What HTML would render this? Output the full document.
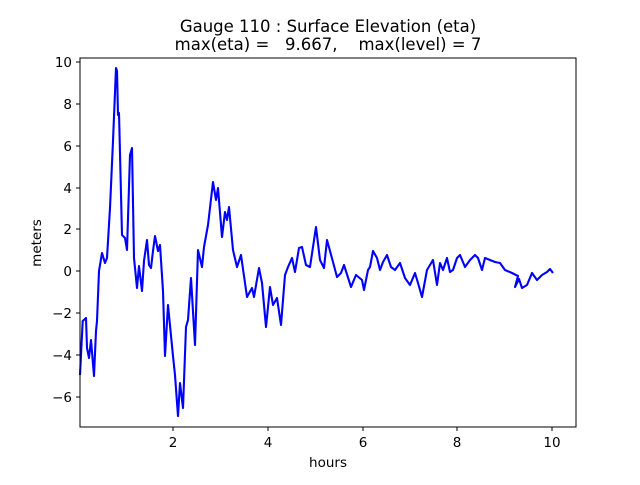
<!DOCTYPE html>
<html><head><style>body{margin:0;background:#fff}svg text{font-family:"DejaVu Sans","Liberation Sans",sans-serif;fill:#000}</style></head>
<body><svg width="640" height="480" xmlns="http://www.w3.org/2000/svg">
<rect width="640" height="480" fill="#fff"/>
<text x="328" y="32" font-size="16.5" text-anchor="middle">Gauge 110 : Surface Elevation (eta)</text>
<text x="328" y="50" font-size="16.5" text-anchor="middle" xml:space="preserve">max(eta) =   9.667,    max(level) = 7</text>
<polyline fill="none" stroke="#0000ff" stroke-width="2.1" stroke-linejoin="round" points="80,375 82.7,321 86,318 87,348 89,358 91,340 94,376 96,331 97,321 99,271 102,253 105,263 107,258 110,208 113,141 116,68 117,71 118,115 119,113 122,235 125,238 127,250 130,155 132,148 134,258 137,288 139,266 142,291 144,261 147,240 149,265 151,268 153,251 155,236 158,251 160,245 163,291 165,356 168,305 173,356 175,375 178,416 180,383 183,408 186,327 188,320 191,278 195,345 198,250 202,267 204,247 208,225 213,182 216,200 218,188 222,237 225,212 227,220 229,207 233,250 237,267 241,255 247,297 252,288 254,297 259,268 262,283 266,327 270,287 273,305 277,298 281,325 285,275 288,267 292,258 295,272 299,248 302,247 306,265 310,267 316,227 320,260 324,268 327,240 333,262 337,277 341,273 344,265 351,287 356,275 362,280 364,290 368,270 370,267 373,251 377,258 380,270 383,262 387,255 391,267 395,270 400,263 405,278 410,285 415,273 418,283 422,297 427,270 433,260 437,285 440,263 443,270 447,258 450,272 453,270 457,258 460,255 465,267 470,260 475,255 478,258 482,270 485,258 490,260 495,262 500,263 505,270 512,273 518,276 515,287 519,279 522,288 527,285 532,273 537,280 542,275 547,272 550,269 553,273"/>
<rect x="80" y="58" width="496" height="369" fill="none" stroke="#000" stroke-width="1"/>
<g stroke="#000">
<line x1="173" y1="427" x2="173" y2="431"/><line x1="268" y1="427" x2="268" y2="431"/><line x1="363" y1="427" x2="363" y2="431"/><line x1="457" y1="427" x2="457" y2="431"/><line x1="552" y1="427" x2="552" y2="431"/>
<line x1="76" y1="62" x2="80" y2="62"/><line x1="76" y1="104" x2="80" y2="104"/><line x1="76" y1="146" x2="80" y2="146"/><line x1="76" y1="188" x2="80" y2="188"/><line x1="76" y1="229" x2="80" y2="229"/><line x1="76" y1="271" x2="80" y2="271"/><line x1="76" y1="313" x2="80" y2="313"/><line x1="76" y1="355" x2="80" y2="355"/><line x1="76" y1="397" x2="80" y2="397"/>
</g>
<g font-size="13.5" text-anchor="middle">
<text x="173" y="447">2</text><text x="268" y="447">4</text><text x="363" y="447">6</text><text x="457" y="447">8</text><text x="552" y="447">10</text>
<text x="328" y="467">hours</text>
</g>
<g font-size="13.5" text-anchor="end">
<text x="72" y="67">10</text><text x="72" y="109">8</text><text x="72" y="151">6</text><text x="72" y="193">4</text><text x="72" y="234">2</text><text x="72" y="276">0</text><text x="72" y="318">−2</text><text x="72" y="360">−4</text><text x="72" y="402">−6</text>
</g>
<text font-size="13.5" text-anchor="middle" transform="translate(41,243) rotate(-90)">meters</text>
</svg></body></html>
